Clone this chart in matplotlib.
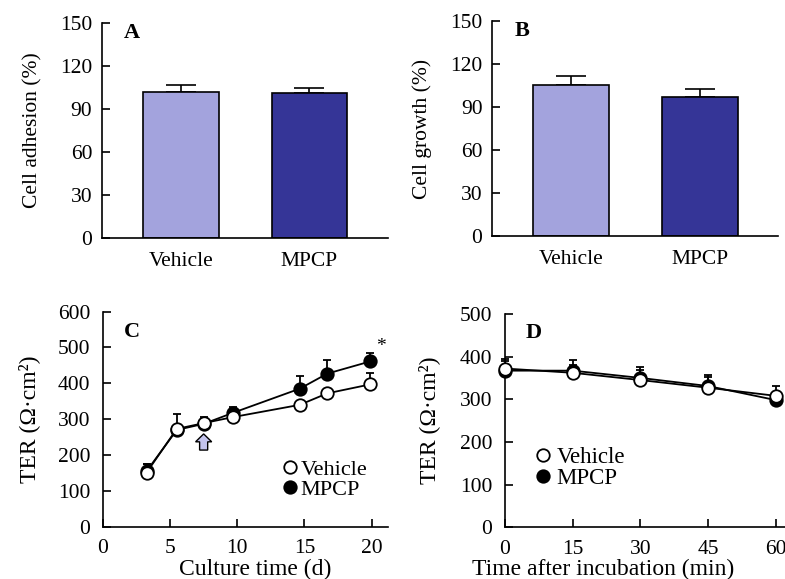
import numpy as np
import matplotlib
matplotlib.use("Agg")
import matplotlib.pyplot as plt
from matplotlib.patches import FancyArrow
from matplotlib.lines import Line2D

plt.rcParams['font.family'] = ['Liberation Serif', 'DejaVu Serif']
plt.rcParams['font.size'] = 15.5

# A, B: bar data
groups = ["Vehicle", "MPCP"]
adhesion = [102, 101]
adhesion_err = [4.7, 3.6]
growth = [105.2, 97.0]
growth_err = [6.1, 5.6]
bar_colors = ["#A3A3DD", "#353597"]

# C: TER during culture
culture_days = [3.25, 5.5, 7.5, 9.7, 14.65, 16.7, 19.9]
ter_veh_c = [151, 273, 289, 306, 340, 372, 397]
ter_veh_c_err = [24, 0, 16, 8, 0, 0, 31]
ter_mpcp_c = [155, 270, 287, 318, 385, 427, 461]
ter_mpcp_c_err = [20, 45, 0, 17, 36, 38, 24]

# D: TER after incubation
incub_min = [0, 15, 30, 45, 60]
ter_veh_d = [372, 362, 345, 327, 308]
ter_veh_d_err = [23, 19, 24, 25, 24]
ter_mpcp_d = [367, 367, 350, 331, 298]
ter_mpcp_d_err = [22, 24, 25, 26, 14]

fig = plt.figure(figsize=(7.85, 5.79), dpi=100)
axA = fig.add_axes([0.130, 0.589, 0.364, 0.371])
axB = fig.add_axes([0.627, 0.592, 0.364, 0.372])
axC = fig.add_axes([0.131, 0.090, 0.363, 0.372])
axD = fig.add_axes([0.643, 0.089, 0.357, 0.369])


def style(ax, pad=7):
    for s in ["top", "right"]:
        ax.spines[s].set_visible(False)
    for s in ["left", "bottom"]:
        ax.spines[s].set_linewidth(1.2)
    ax.tick_params(direction="in", length=6, width=1.2, pad=pad, labelsize=15.5)


def bar_panel(ax, vals, errs, ylabel, letter):
    x = np.arange(len(groups))
    ax.bar(x, vals, width=0.59, color=bar_colors, edgecolor="black", linewidth=1.2, zorder=2)
    ax.errorbar(x, vals, yerr=[np.zeros(len(vals)), errs], fmt="none", ecolor="black",
                elinewidth=1.2, capsize=11, capthick=1.2, zorder=1)
    ax.set_xlim(-0.613, 1.609)
    ax.set_ylim(0, 150)
    ax.set_yticks(range(0, 151, 30))
    ax.set_xticks(x)
    ax.set_xticklabels(groups)
    style(ax)
    ax.tick_params(axis="x", length=0, pad=10)
    ax.set_ylabel(ylabel, fontsize=15.5)
    ax.yaxis.set_label_coords(-0.21, 0.5)
    ax.text(0.077, 1.0, letter, transform=ax.transAxes, fontsize=16, fontweight="bold",
            va="top", ha="left")


bar_panel(axA, adhesion, adhesion_err, "Cell adhesion (%)", "A")
bar_panel(axB, growth, growth_err, "Cell growth (%)", "B")


def line_panel(ax, x, veh, veh_err, mp, mp_err):
    ax.errorbar(x, mp, yerr=[np.zeros(len(mp)), mp_err], fmt="-o", color="black",
                mfc="black", mec="black", ms=9, mew=1.3, lw=1.3, capsize=3, capthick=1.3,
                elinewidth=1.3, zorder=3)
    ax.errorbar(x, veh, yerr=[np.zeros(len(veh)), veh_err], fmt="-o", color="black",
                mfc="white", mec="black", ms=9, mew=1.3, lw=1.3, capsize=3, capthick=1.3,
                elinewidth=1.3, zorder=4)
    style(ax, pad=9)
    for line in ax.lines:
        line.set_clip_on(False)


def legend_handles():
    return [Line2D([], [], ls="none", marker="o", ms=9, mew=1.3, mfc="white", mec="black"),
            Line2D([], [], ls="none", marker="o", ms=9, mew=1.3, mfc="black", mec="black")]


line_panel(axC, culture_days, ter_veh_c, ter_veh_c_err, ter_mpcp_c, ter_mpcp_c_err)
axC.set_xlim(0, 21.2)
axC.set_ylim(0, 600)
axC.set_xticks(range(0, 21, 5))
axC.set_yticks(range(0, 601, 100))
axC.set_xlabel("Culture time (d)", fontsize=17)
axC.xaxis.set_label_coords(0.533, -0.15)
axC.set_ylabel("TER (Ω·cm²)", fontsize=17)
axC.yaxis.set_label_coords(-0.22, 0.5)
axC.text(0.075, 0.953, "C", transform=axC.transAxes, fontsize=16, fontweight="bold",
         va="top", ha="left")
axC.text(20.3, 478, "*", fontsize=14, ha="left", va="bottom")
axC.add_patch(FancyArrow(7.5, 214, 0, 45, width=0.6, head_width=1.2, head_length=22,
                         length_includes_head=True, facecolor="#C4C4EE", edgecolor="black",
                         linewidth=1.0, zorder=5))
axC.legend(legend_handles(), ["Vehicle", "MPCP"], loc="center left",
           bbox_to_anchor=(0.632, 0.22), frameon=False, handlelength=0.6,
           handletextpad=0.2, labelspacing=0.0, borderpad=0, borderaxespad=0,
           fontsize=16)

line_panel(axD, incub_min, ter_veh_d, ter_veh_d_err, ter_mpcp_d, ter_mpcp_d_err)
axD.set_xlim(0, 62)
axD.set_ylim(0, 500)
axD.set_xticks(range(0, 61, 15))
axD.set_yticks(range(0, 501, 100))
axD.set_xlabel("Time after incubation (min)", fontsize=17)
axD.xaxis.set_label_coords(0.352, -0.145)
axD.set_ylabel("TER (Ω·cm²)", fontsize=17)
axD.yaxis.set_label_coords(-0.232, 0.5)
axD.text(0.075, 0.958, "D", transform=axD.transAxes, fontsize=16, fontweight="bold",
         va="top", ha="left")
axD.legend(legend_handles(), ["Vehicle", "MPCP"], loc="center left",
           bbox_to_anchor=(0.111, 0.28), frameon=False, handlelength=0.6,
           handletextpad=0.3, labelspacing=0.0, borderpad=0, borderaxespad=0,
           fontsize=16.5)

fig.savefig("out.png", dpi=100)
